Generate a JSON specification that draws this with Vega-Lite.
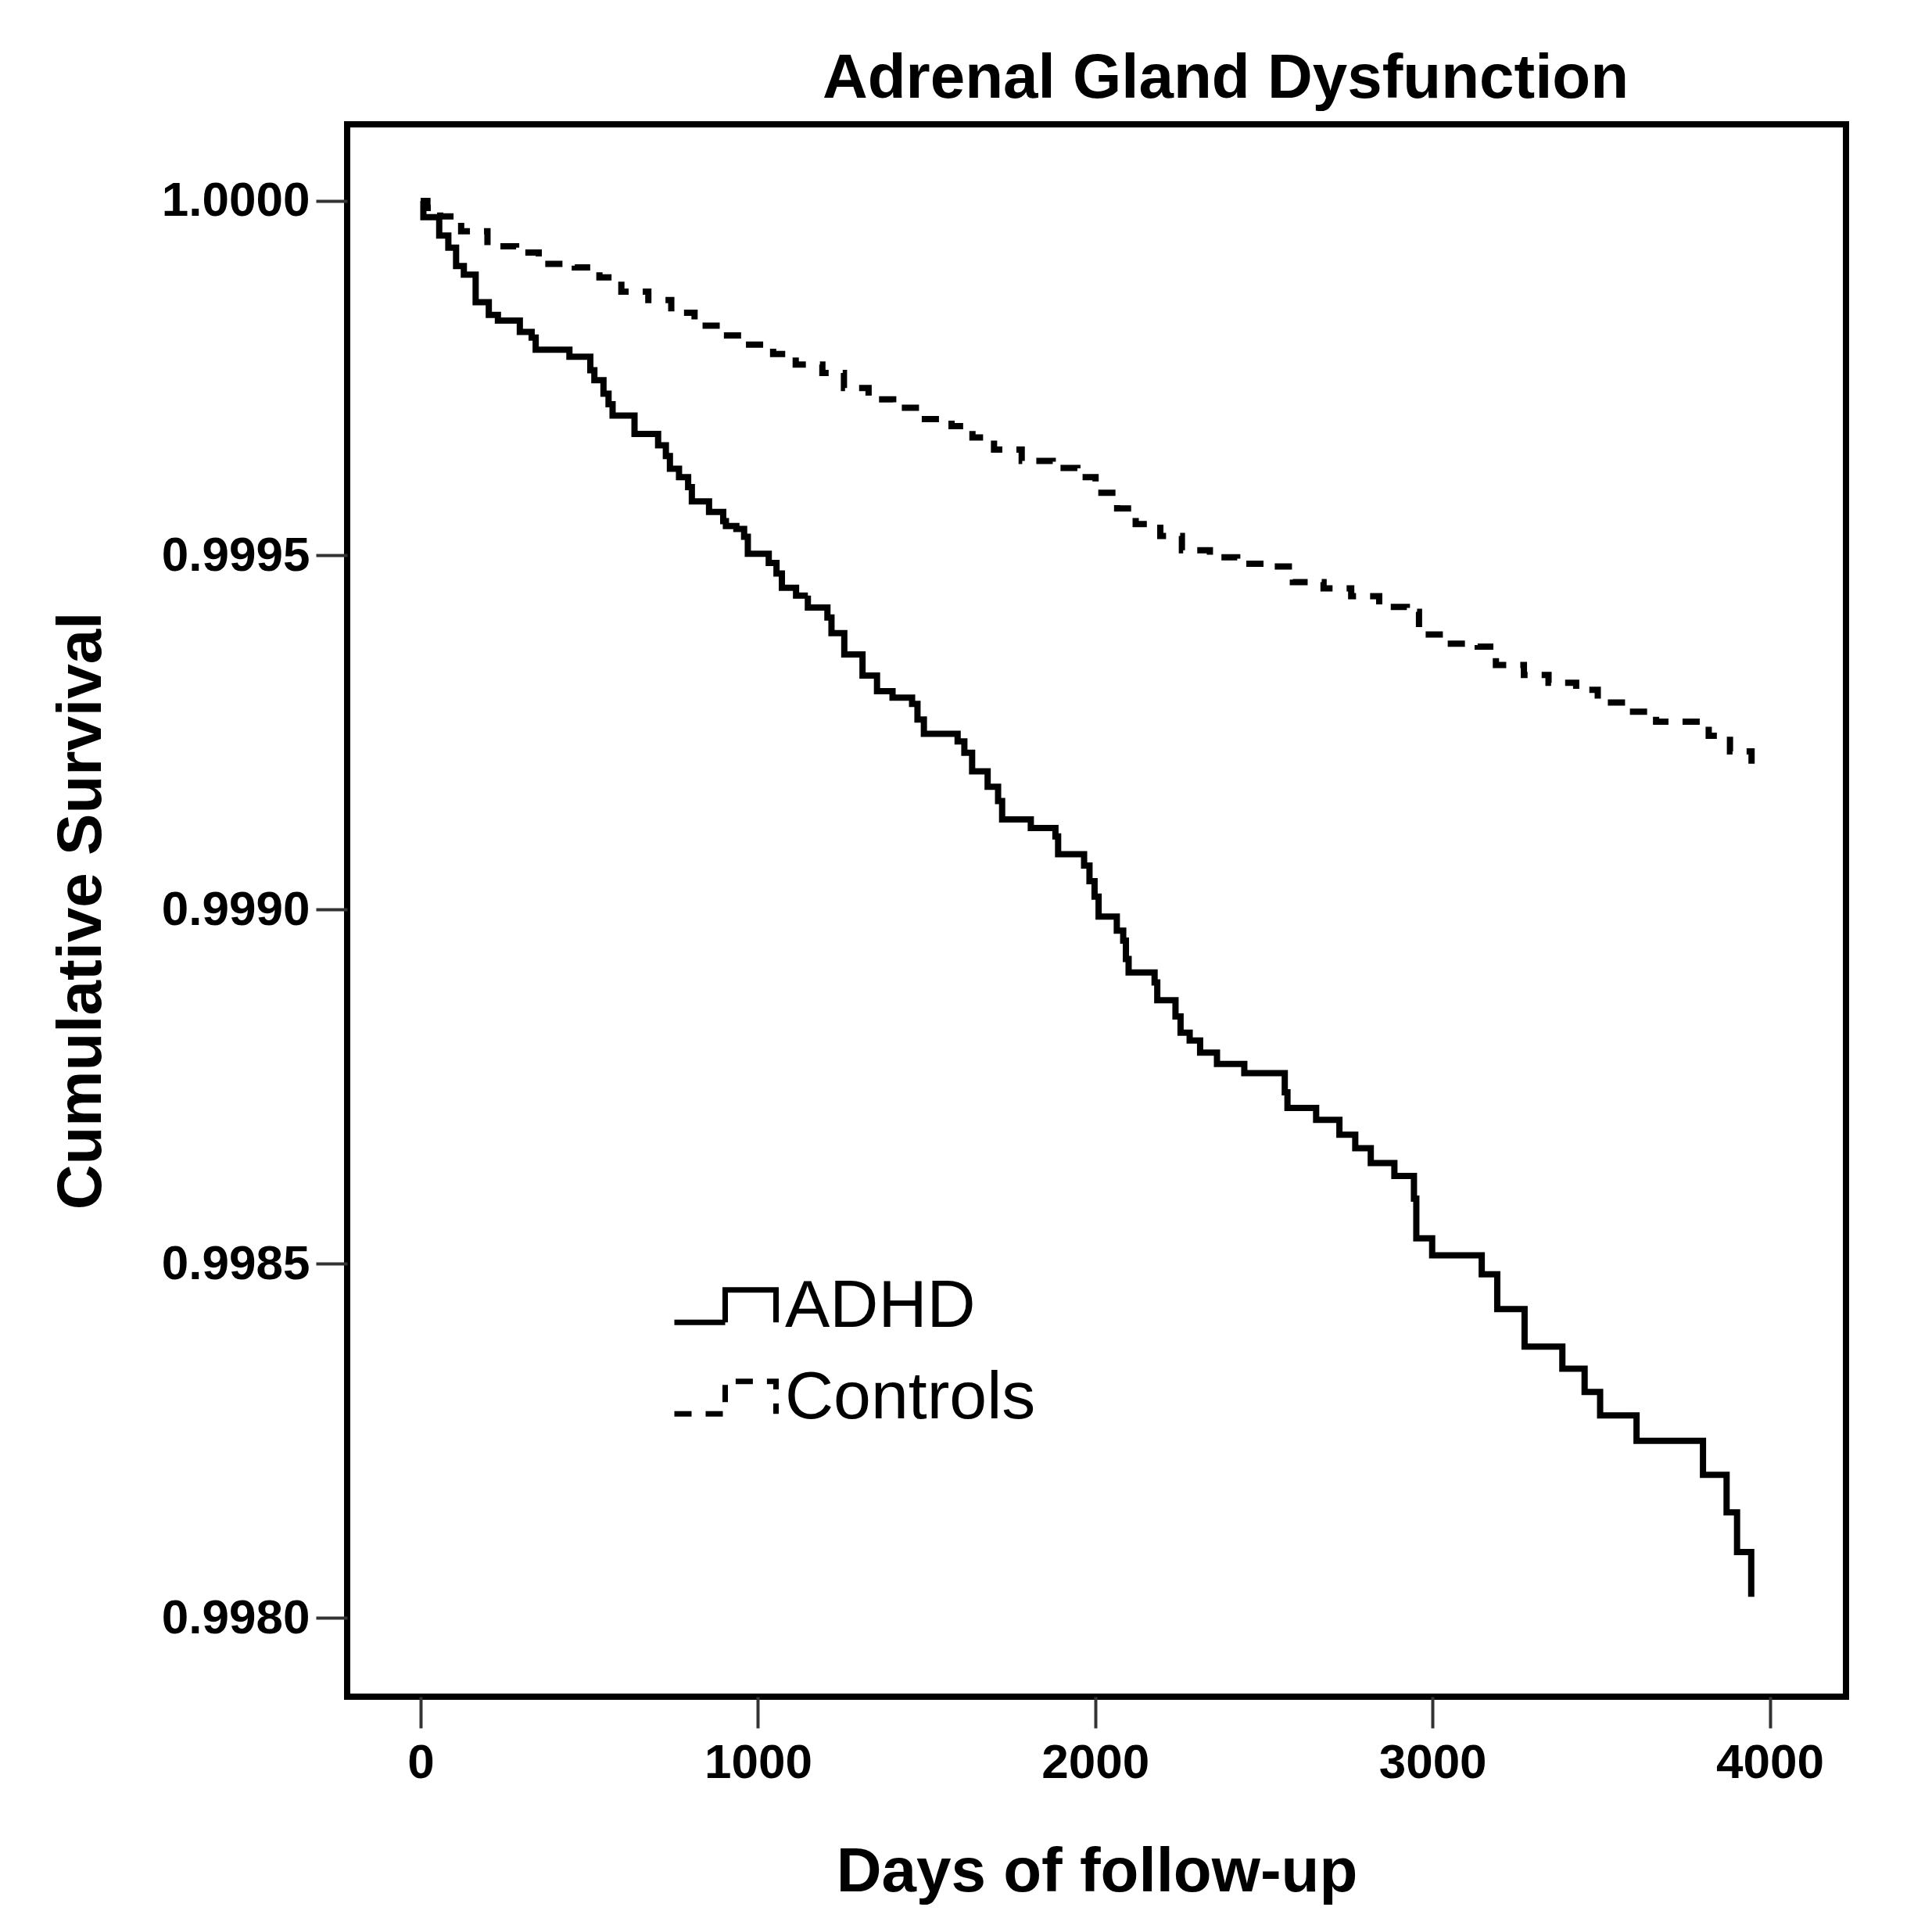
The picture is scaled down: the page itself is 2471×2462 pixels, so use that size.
{
  "$schema": "https://vega.github.io/schema/vega-lite/v6.json",
  "description": "Kaplan-Meier style cumulative survival, adrenal gland dysfunction, ADHD vs controls",
  "width": 1917,
  "height": 2011,
  "autosize": {"type": "none"},
  "padding": {"left": 444, "top": 159, "right": 110, "bottom": 292},
  "background": "white",
  "title": {
    "text": "Adrenal Gland Dysfunction",
    "font": "Liberation Sans",
    "fontSize": 80,
    "fontWeight": "bold",
    "color": "black",
    "anchor": "middle",
    "dx": 165,
    "dy": 83,
    "baseline": "alphabetic",
    "offset": 37
  },
  "config": {
    "view": {"stroke": "black", "strokeWidth": 8},
    "axis": {
      "domain": false,
      "grid": false,
      "tickColor": "#333",
      "tickWidth": 4,
      "tickSize": 40,
      "labelFont": "Liberation Sans",
      "labelFontSize": 62,
      "labelFontWeight": "bold",
      "labelColor": "black",
      "labelFlush": false,
      "labelOverlap": false,
      "labelLimit": 0,
      "titleFont": "Liberation Sans",
      "titleFontSize": 80,
      "titleFontWeight": "bold",
      "titleColor": "black"
    }
  },
  "data": {
    "values": [
      {"group": "ADHD", "day": 0, "s": 1.0},
      {"group": "ADHD", "day": 8, "s": 0.999977},
      {"group": "ADHD", "day": 55, "s": 0.999951},
      {"group": "ADHD", "day": 82, "s": 0.999934},
      {"group": "ADHD", "day": 105, "s": 0.999908},
      {"group": "ADHD", "day": 128, "s": 0.999896},
      {"group": "ADHD", "day": 163, "s": 0.999857},
      {"group": "ADHD", "day": 202, "s": 0.999839},
      {"group": "ADHD", "day": 229, "s": 0.999831},
      {"group": "ADHD", "day": 294, "s": 0.999815},
      {"group": "ADHD", "day": 329, "s": 0.999807},
      {"group": "ADHD", "day": 341, "s": 0.99979},
      {"group": "ADHD", "day": 441, "s": 0.99978},
      {"group": "ADHD", "day": 503, "s": 0.999761},
      {"group": "ADHD", "day": 515, "s": 0.999747},
      {"group": "ADHD", "day": 542, "s": 0.999728},
      {"group": "ADHD", "day": 557, "s": 0.999713},
      {"group": "ADHD", "day": 569, "s": 0.999697},
      {"group": "ADHD", "day": 634, "s": 0.999671},
      {"group": "ADHD", "day": 704, "s": 0.999655},
      {"group": "ADHD", "day": 727, "s": 0.99964},
      {"group": "ADHD", "day": 739, "s": 0.999622},
      {"group": "ADHD", "day": 766, "s": 0.99961},
      {"group": "ADHD", "day": 793, "s": 0.999596},
      {"group": "ADHD", "day": 804, "s": 0.999576},
      {"group": "ADHD", "day": 855, "s": 0.999561},
      {"group": "ADHD", "day": 897, "s": 0.999548},
      {"group": "ADHD", "day": 905, "s": 0.999541},
      {"group": "ADHD", "day": 936, "s": 0.999537},
      {"group": "ADHD", "day": 959, "s": 0.999526},
      {"group": "ADHD", "day": 970, "s": 0.999502},
      {"group": "ADHD", "day": 1032, "s": 0.999489},
      {"group": "ADHD", "day": 1055, "s": 0.999474},
      {"group": "ADHD", "day": 1071, "s": 0.999454},
      {"group": "ADHD", "day": 1113, "s": 0.999443},
      {"group": "ADHD", "day": 1148, "s": 0.999426},
      {"group": "ADHD", "day": 1206, "s": 0.999412},
      {"group": "ADHD", "day": 1218, "s": 0.99939},
      {"group": "ADHD", "day": 1256, "s": 0.99936},
      {"group": "ADHD", "day": 1310, "s": 0.99933},
      {"group": "ADHD", "day": 1353, "s": 0.999308},
      {"group": "ADHD", "day": 1399, "s": 0.999299},
      {"group": "ADHD", "day": 1457, "s": 0.99929},
      {"group": "ADHD", "day": 1473, "s": 0.999268},
      {"group": "ADHD", "day": 1492, "s": 0.999248},
      {"group": "ADHD", "day": 1592, "s": 0.999237},
      {"group": "ADHD", "day": 1612, "s": 0.999221},
      {"group": "ADHD", "day": 1635, "s": 0.999195},
      {"group": "ADHD", "day": 1681, "s": 0.999173},
      {"group": "ADHD", "day": 1712, "s": 0.999153},
      {"group": "ADHD", "day": 1724, "s": 0.999127},
      {"group": "ADHD", "day": 1809, "s": 0.999115},
      {"group": "ADHD", "day": 1882, "s": 0.999103},
      {"group": "ADHD", "day": 1890, "s": 0.999078},
      {"group": "ADHD", "day": 1967, "s": 0.999062},
      {"group": "ADHD", "day": 1983, "s": 0.99904},
      {"group": "ADHD", "day": 1998, "s": 0.999018},
      {"group": "ADHD", "day": 2010, "s": 0.99899},
      {"group": "ADHD", "day": 2064, "s": 0.99897},
      {"group": "ADHD", "day": 2083, "s": 0.998956},
      {"group": "ADHD", "day": 2091, "s": 0.99893},
      {"group": "ADHD", "day": 2099, "s": 0.998911},
      {"group": "ADHD", "day": 2176, "s": 0.998897},
      {"group": "ADHD", "day": 2184, "s": 0.998872},
      {"group": "ADHD", "day": 2238, "s": 0.998849},
      {"group": "ADHD", "day": 2253, "s": 0.998826},
      {"group": "ADHD", "day": 2280, "s": 0.998815},
      {"group": "ADHD", "day": 2311, "s": 0.998798},
      {"group": "ADHD", "day": 2361, "s": 0.998782},
      {"group": "ADHD", "day": 2442, "s": 0.998769},
      {"group": "ADHD", "day": 2562, "s": 0.998742},
      {"group": "ADHD", "day": 2570, "s": 0.99872},
      {"group": "ADHD", "day": 2655, "s": 0.998703},
      {"group": "ADHD", "day": 2724, "s": 0.998682},
      {"group": "ADHD", "day": 2771, "s": 0.998663},
      {"group": "ADHD", "day": 2817, "s": 0.998642},
      {"group": "ADHD", "day": 2887, "s": 0.998624},
      {"group": "ADHD", "day": 2945, "s": 0.998592},
      {"group": "ADHD", "day": 2952, "s": 0.998536},
      {"group": "ADHD", "day": 2999, "s": 0.998512},
      {"group": "ADHD", "day": 3146, "s": 0.998485},
      {"group": "ADHD", "day": 3192, "s": 0.998436},
      {"group": "ADHD", "day": 3273, "s": 0.998383},
      {"group": "ADHD", "day": 3385, "s": 0.998352},
      {"group": "ADHD", "day": 3451, "s": 0.998319},
      {"group": "ADHD", "day": 3497, "s": 0.998286},
      {"group": "ADHD", "day": 3605, "s": 0.99825},
      {"group": "ADHD", "day": 3802, "s": 0.998202},
      {"group": "ADHD", "day": 3872, "s": 0.998149},
      {"group": "ADHD", "day": 3903, "s": 0.998093},
      {"group": "ADHD", "day": 3945, "s": 0.99803},
      {"group": "Controls", "day": 0, "s": 1.0},
      {"group": "Controls", "day": 20, "s": 0.99999},
      {"group": "Controls", "day": 58, "s": 0.999978},
      {"group": "Controls", "day": 120, "s": 0.999957},
      {"group": "Controls", "day": 198, "s": 0.999936},
      {"group": "Controls", "day": 283, "s": 0.999927},
      {"group": "Controls", "day": 350, "s": 0.999911},
      {"group": "Controls", "day": 457, "s": 0.999906},
      {"group": "Controls", "day": 530, "s": 0.999892},
      {"group": "Controls", "day": 595, "s": 0.999872},
      {"group": "Controls", "day": 675, "s": 0.99986},
      {"group": "Controls", "day": 743, "s": 0.999842},
      {"group": "Controls", "day": 812, "s": 0.999824},
      {"group": "Controls", "day": 889, "s": 0.99981},
      {"group": "Controls", "day": 963, "s": 0.999797},
      {"group": "Controls", "day": 1045, "s": 0.999784},
      {"group": "Controls", "day": 1112, "s": 0.999769},
      {"group": "Controls", "day": 1191, "s": 0.999757},
      {"group": "Controls", "day": 1255, "s": 0.999736},
      {"group": "Controls", "day": 1328, "s": 0.99972},
      {"group": "Controls", "day": 1401, "s": 0.999708},
      {"group": "Controls", "day": 1483, "s": 0.999692},
      {"group": "Controls", "day": 1574, "s": 0.999682},
      {"group": "Controls", "day": 1636, "s": 0.999666},
      {"group": "Controls", "day": 1700, "s": 0.999649},
      {"group": "Controls", "day": 1782, "s": 0.999633},
      {"group": "Controls", "day": 1874, "s": 0.999623},
      {"group": "Controls", "day": 1947, "s": 0.99961},
      {"group": "Controls", "day": 2001, "s": 0.999588},
      {"group": "Controls", "day": 2065, "s": 0.999566},
      {"group": "Controls", "day": 2120, "s": 0.999544},
      {"group": "Controls", "day": 2193, "s": 0.999527},
      {"group": "Controls", "day": 2257, "s": 0.999507},
      {"group": "Controls", "day": 2340, "s": 0.999497},
      {"group": "Controls", "day": 2421, "s": 0.999488},
      {"group": "Controls", "day": 2531, "s": 0.999484},
      {"group": "Controls", "day": 2586, "s": 0.999462},
      {"group": "Controls", "day": 2677, "s": 0.999453},
      {"group": "Controls", "day": 2759, "s": 0.999442},
      {"group": "Controls", "day": 2842, "s": 0.999427},
      {"group": "Controls", "day": 2924, "s": 0.99942},
      {"group": "Controls", "day": 2960, "s": 0.999388},
      {"group": "Controls", "day": 3042, "s": 0.999375},
      {"group": "Controls", "day": 3134, "s": 0.999371},
      {"group": "Controls", "day": 3188, "s": 0.999345},
      {"group": "Controls", "day": 3271, "s": 0.999331},
      {"group": "Controls", "day": 3344, "s": 0.99932},
      {"group": "Controls", "day": 3426, "s": 0.99931},
      {"group": "Controls", "day": 3490, "s": 0.999292},
      {"group": "Controls", "day": 3581, "s": 0.999279},
      {"group": "Controls", "day": 3663, "s": 0.999265},
      {"group": "Controls", "day": 3819, "s": 0.999245},
      {"group": "Controls", "day": 3882, "s": 0.999223},
      {"group": "Controls", "day": 3946, "s": 0.999197}
    ]
  },
  "mark": {
    "type": "line",
    "interpolate": "step-after",
    "color": "black",
    "strokeWidth": 8,
    "strokeCap": "butt"
  },
  "encoding": {
    "x": {
      "field": "day",
      "type": "quantitative",
      "scale": {"domain": [-218, 4226], "nice": false, "zero": false},
      "axis": {
        "values": [0, 1000, 2000, 3000, 4000],
        "format": ".0f",
        "title": "Days of follow-up",
        "labelPadding": 14,
        "titlePadding": 70
      }
    },
    "y": {
      "field": "s",
      "type": "quantitative",
      "scale": {"domain": [0.997889, 1.000108], "nice": false, "zero": false},
      "axis": {
        "values": [0.998, 0.9985, 0.999, 0.9995, 1.0],
        "format": ".4f",
        "title": "Cumulative Survival",
        "labelPadding": 8,
        "titlePadding": 99
      }
    },
    "strokeDash": {
      "field": "group",
      "type": "nominal",
      "scale": {"domain": ["ADHD", "Controls"], "range": [[1, 0], [22, 18]]},
      "legend": {
        "title": null,
        "orient": "none",
        "legendX": 415,
        "legendY": 1443,
        "padding": 0,
        "symbolType": "M-1,0.32H0V-0.32H1V0.32",
        "symbolSize": 16900,
        "symbolStrokeWidth": 7,
        "symbolStrokeColor": "black",
        "symbolFillColor": "transparent",
        "labelFont": "Liberation Sans",
        "labelFontSize": 86,
        "labelColor": "black",
        "labelLimit": 0,
        "labelOffset": 8,
        "rowPadding": 5
      }
    }
  }
}
